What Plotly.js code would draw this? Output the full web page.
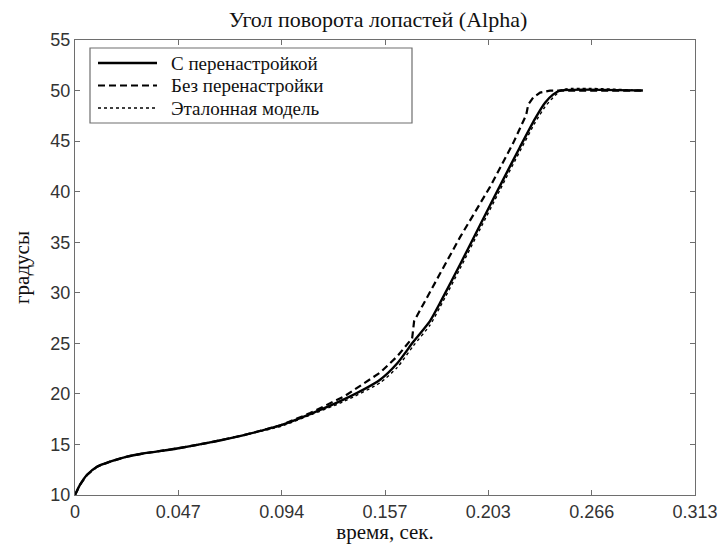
<!DOCTYPE html>
<html>
<head>
<meta charset="utf-8">
<script src="https://cdn.plot.ly/plotly-3.0.1.min.js"></script>
<style>html,body{margin:0;padding:0;background:#fff;}#chart{width:718px;height:544px;}</style>
</head>
<body>
<div id="chart"></div>
<script>
// Time axis (s) and series values
const tWith = [0, 0.0025, 0.0061, 0.0111, 0.0177, 0.0263, 0.0343, 0.0515, 0.0682, 0.0848, 0.1040, 0.1187, 0.1363, 0.1540, 0.1626, 0.1706, 0.1792, 0.1843, 0.1944, 0.2045, 0.2146, 0.2246, 0.2322, 0.2373, 0.2413, 0.2448, 0.2867];
const alphaWith = [10, 11, 12, 12.8, 13.3, 13.8, 14.1, 14.6, 15.2, 15.9, 16.9, 18.0, 19.5, 21.4, 23.0, 25.1, 27.2, 29.0, 32.8, 36.7, 40.6, 44.4, 47.2, 48.8, 49.6, 50.0, 50.0];

const tWithout = [0, 0.0025, 0.0061, 0.0111, 0.0177, 0.0263, 0.0343, 0.0515, 0.0682, 0.0848, 0.1040, 0.1187, 0.1363, 0.1540, 0.1626, 0.1702, 0.1712, 0.1742, 0.1843, 0.1944, 0.2096, 0.2212, 0.2278, 0.2288, 0.2313, 0.2348, 0.2398, 0.2867];
const alphaWithout = [10, 11, 12, 12.8, 13.3, 13.8, 14.1, 14.6, 15.2, 15.9, 16.9, 18.1, 19.8, 22.1, 23.7, 25.5, 27.2, 28.3, 31.9, 35.5, 40.5, 44.8, 47.6, 48.6, 49.3, 49.8, 50.0, 50.0];

const tRef = [0, 0.0025, 0.0061, 0.0111, 0.0177, 0.0263, 0.0343, 0.0515, 0.0682, 0.0848, 0.1040, 0.1187, 0.1363, 0.1540, 0.1626, 0.1706, 0.1792, 0.1843, 0.1944, 0.2045, 0.2146, 0.2246, 0.2322, 0.2373, 0.2413, 0.2463, 0.2867];
const alphaRef = [10, 11, 12, 12.8, 13.3, 13.8, 14.1, 14.6, 15.2, 15.9, 16.8, 17.9, 19.3, 21.1, 22.6, 24.7, 26.8, 28.6, 32.4, 36.3, 40.2, 44.0, 46.8, 48.4, 49.3, 50.1, 50.0];

const seriesNames = ["С перенастройкой", "Без перенастройки", "Эталонная модель"];
const xTickText = ["0", "0.047", "0.094", "0.157", "0.203", "0.266", "0.313"];
const xMax = 0.313;
const yTicks = [10, 15, 20, 25, 30, 35, 40, 45, 50, 55];

const xTickVals = xTickText.map((_, i) => i * xMax / (xTickText.length - 1));

const serif = "Liberation Serif, Times New Roman, serif";
const sans = "Liberation Sans, Arial, sans-serif";

const lineStyles = [
  {color: "#000", width: 2.4},
  {color: "#000", width: 2.2, dash: "7px,4px"},
  {color: "#000", width: 1.4, dash: "dot"}
];

const traces = [
  {x: tWith, y: alphaWith, name: seriesNames[0], mode: "lines", line: Object.assign({shape: "spline", smoothing: 0.6}, lineStyles[0])},
  {x: tWithout, y: alphaWithout, name: seriesNames[1], mode: "lines", line: lineStyles[1]},
  {x: tRef, y: alphaRef, name: seriesNames[2], mode: "lines", line: Object.assign({shape: "spline", smoothing: 0.6}, lineStyles[2])}
];

// plot area in pixels: left 75, right 695, top 40, bottom 495
const plotL = 75, plotW = 620, plotT = 40, plotH = 455;
const px = v => (v - plotL) / plotW;
const py = v => (plotT + plotH - v) / plotH;

// custom legend (box, samples, labels) placed like the reference
const legendRows = [63, 85.5, 108];
const shapes = [{type: "rect", xref: "paper", yref: "paper", x0: px(90), x1: px(412), y0: py(123), y1: py(48),
                 line: {color: "#6e6e6e", width: 1.2}, fillcolor: "#fff", layer: "below"}];
const annotations = [];
seriesNames.forEach((name, i) => {
  shapes.push({type: "line", xref: "paper", yref: "paper", x0: px(98), x1: px(157), y0: py(legendRows[i]), y1: py(legendRows[i]),
               line: lineStyles[i]});
  annotations.push({xref: "paper", yref: "paper", x: px(170), y: py(legendRows[i]), xanchor: "left", yanchor: "middle",
                    text: name, showarrow: false, borderpad: 0, font: {family: serif, size: 19, color: "#111"}});
});

const axisCommon = {
  showgrid: false, zeroline: false, showline: true, linecolor: "#6e6e6e", linewidth: 1.2,
  mirror: "ticks", ticks: "inside", ticklen: 5, tickcolor: "#6e6e6e", tickwidth: 1,
  tickfont: {family: sans, size: 18, color: "#333"}
};

const layout = {
  width: 718, height: 544,
  margin: {l: plotL, r: 718 - plotL - plotW, t: plotT, b: 544 - plotT - plotH},
  paper_bgcolor: "#fff", plot_bgcolor: "#fff",
  title: {text: "Угол поворота лопастей (Alpha)", font: {family: serif, size: 22, color: "#111"},
          xref: "container", x: 378 / 718, xanchor: "center", yref: "container", y: 1 - 19 / 544, yanchor: "middle"},
  xaxis: Object.assign({}, axisCommon, {range: [0, xMax], tickvals: xTickVals, ticktext: xTickText,
          title: {text: "время, сек.", font: {family: serif, size: 21, color: "#111"}, standoff: 0}}),
  yaxis: Object.assign({}, axisCommon, {range: [10, 55], tickvals: yTicks,
          title: {text: "градусы", font: {family: serif, size: 21, color: "#111"}, standoff: 14}}),
  showlegend: false,
  shapes: shapes,
  annotations: annotations
};

Plotly.newPlot("chart", traces, layout, {staticPlot: true, displayModeBar: false});
</script>
</body>
</html>
